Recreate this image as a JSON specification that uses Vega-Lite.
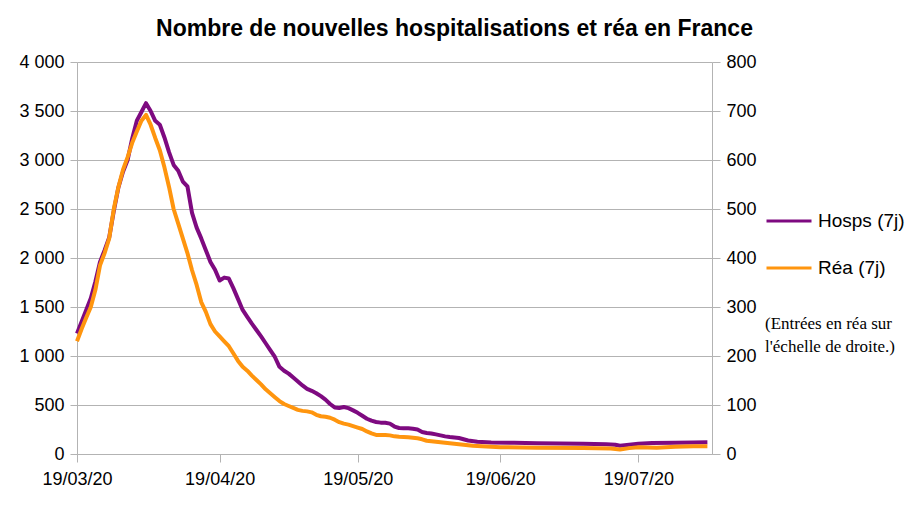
{
  "$schema": "https://vega.github.io/schema/vega-lite/v6.json",
  "width": 635,
  "height": 392,
  "autosize": {"type": "none"},
  "padding": {"left": 77, "top": 62, "right": 195, "bottom": 58},
  "background": "white",
  "config": {"view": {"stroke": null}, "font": "Liberation Sans"},
  "title": {
    "text": "Nombre de nouvelles hospitalisations et réa en France",
    "font": "Liberation Sans",
    "fontSize": 23,
    "fontWeight": "bold",
    "color": "black",
    "anchor": "middle",
    "dx": 60,
    "dy": 28,
    "offset": 22,
    "baseline": "alphabetic"
  },
  "datasets": {
    "hosps": [
      {"date": "2020-03-19", "value": 1230}, {"date": "2020-03-20", "value": 1350}, {"date": "2020-03-21", "value": 1470},
      {"date": "2020-03-22", "value": 1590}, {"date": "2020-03-23", "value": 1760}, {"date": "2020-03-24", "value": 1960},
      {"date": "2020-03-25", "value": 2080}, {"date": "2020-03-26", "value": 2210}, {"date": "2020-03-27", "value": 2480},
      {"date": "2020-03-28", "value": 2720}, {"date": "2020-03-29", "value": 2880}, {"date": "2020-03-30", "value": 3000},
      {"date": "2020-03-31", "value": 3220}, {"date": "2020-04-01", "value": 3400}, {"date": "2020-04-02", "value": 3490},
      {"date": "2020-04-03", "value": 3580}, {"date": "2020-04-04", "value": 3500}, {"date": "2020-04-05", "value": 3400},
      {"date": "2020-04-06", "value": 3360}, {"date": "2020-04-07", "value": 3230}, {"date": "2020-04-08", "value": 3080},
      {"date": "2020-04-09", "value": 2950}, {"date": "2020-04-10", "value": 2890}, {"date": "2020-04-11", "value": 2780},
      {"date": "2020-04-12", "value": 2730}, {"date": "2020-04-13", "value": 2460}, {"date": "2020-04-14", "value": 2310},
      {"date": "2020-04-15", "value": 2200}, {"date": "2020-04-16", "value": 2080}, {"date": "2020-04-17", "value": 1960},
      {"date": "2020-04-18", "value": 1880}, {"date": "2020-04-19", "value": 1770}, {"date": "2020-04-20", "value": 1800},
      {"date": "2020-04-21", "value": 1790}, {"date": "2020-04-22", "value": 1690}, {"date": "2020-04-23", "value": 1580},
      {"date": "2020-04-24", "value": 1470}, {"date": "2020-04-25", "value": 1400}, {"date": "2020-04-26", "value": 1330},
      {"date": "2020-04-27", "value": 1265}, {"date": "2020-04-28", "value": 1200}, {"date": "2020-04-29", "value": 1130},
      {"date": "2020-04-30", "value": 1060}, {"date": "2020-05-01", "value": 990}, {"date": "2020-05-02", "value": 890},
      {"date": "2020-05-03", "value": 850}, {"date": "2020-05-04", "value": 820}, {"date": "2020-05-05", "value": 780},
      {"date": "2020-05-06", "value": 740}, {"date": "2020-05-07", "value": 700}, {"date": "2020-05-08", "value": 665},
      {"date": "2020-05-09", "value": 645}, {"date": "2020-05-10", "value": 620}, {"date": "2020-05-11", "value": 590},
      {"date": "2020-05-12", "value": 555}, {"date": "2020-05-13", "value": 510}, {"date": "2020-05-14", "value": 475},
      {"date": "2020-05-15", "value": 470}, {"date": "2020-05-16", "value": 480}, {"date": "2020-05-17", "value": 468},
      {"date": "2020-05-18", "value": 445}, {"date": "2020-05-19", "value": 420}, {"date": "2020-05-20", "value": 390},
      {"date": "2020-05-21", "value": 360}, {"date": "2020-05-22", "value": 340}, {"date": "2020-05-23", "value": 327},
      {"date": "2020-05-24", "value": 320}, {"date": "2020-05-25", "value": 318}, {"date": "2020-05-26", "value": 310},
      {"date": "2020-05-27", "value": 280}, {"date": "2020-05-28", "value": 265}, {"date": "2020-05-29", "value": 263},
      {"date": "2020-05-30", "value": 262}, {"date": "2020-05-31", "value": 258}, {"date": "2020-06-01", "value": 250},
      {"date": "2020-06-02", "value": 225}, {"date": "2020-06-03", "value": 215}, {"date": "2020-06-04", "value": 210},
      {"date": "2020-06-05", "value": 200}, {"date": "2020-06-06", "value": 190}, {"date": "2020-06-07", "value": 180},
      {"date": "2020-06-08", "value": 173}, {"date": "2020-06-09", "value": 168}, {"date": "2020-06-10", "value": 163},
      {"date": "2020-06-11", "value": 150}, {"date": "2020-06-12", "value": 138}, {"date": "2020-06-14", "value": 125},
      {"date": "2020-06-17", "value": 118}, {"date": "2020-06-22", "value": 115}, {"date": "2020-06-27", "value": 110},
      {"date": "2020-07-02", "value": 108}, {"date": "2020-07-07", "value": 105}, {"date": "2020-07-12", "value": 100},
      {"date": "2020-07-14", "value": 95}, {"date": "2020-07-15", "value": 85}, {"date": "2020-07-17", "value": 95},
      {"date": "2020-07-19", "value": 105}, {"date": "2020-07-22", "value": 112}, {"date": "2020-07-27", "value": 115},
      {"date": "2020-07-31", "value": 118}, {"date": "2020-08-03", "value": 120}
    ],
    "rea": [
      {"date": "2020-03-19", "value": 230}, {"date": "2020-03-20", "value": 255}, {"date": "2020-03-21", "value": 278},
      {"date": "2020-03-22", "value": 300}, {"date": "2020-03-23", "value": 335}, {"date": "2020-03-24", "value": 385},
      {"date": "2020-03-25", "value": 410}, {"date": "2020-03-26", "value": 440}, {"date": "2020-03-27", "value": 500},
      {"date": "2020-03-28", "value": 545}, {"date": "2020-03-29", "value": 580}, {"date": "2020-03-30", "value": 606},
      {"date": "2020-03-31", "value": 635}, {"date": "2020-04-01", "value": 658}, {"date": "2020-04-02", "value": 680},
      {"date": "2020-04-03", "value": 692}, {"date": "2020-04-04", "value": 672}, {"date": "2020-04-05", "value": 645},
      {"date": "2020-04-06", "value": 620}, {"date": "2020-04-07", "value": 585}, {"date": "2020-04-08", "value": 545},
      {"date": "2020-04-09", "value": 500}, {"date": "2020-04-10", "value": 470}, {"date": "2020-04-11", "value": 440},
      {"date": "2020-04-12", "value": 410}, {"date": "2020-04-13", "value": 375}, {"date": "2020-04-14", "value": 345},
      {"date": "2020-04-15", "value": 310}, {"date": "2020-04-16", "value": 290}, {"date": "2020-04-17", "value": 265},
      {"date": "2020-04-18", "value": 250}, {"date": "2020-04-19", "value": 240}, {"date": "2020-04-20", "value": 230},
      {"date": "2020-04-21", "value": 220}, {"date": "2020-04-22", "value": 205}, {"date": "2020-04-23", "value": 190},
      {"date": "2020-04-24", "value": 178}, {"date": "2020-04-25", "value": 170}, {"date": "2020-04-26", "value": 160},
      {"date": "2020-04-27", "value": 151}, {"date": "2020-04-28", "value": 142}, {"date": "2020-04-29", "value": 132},
      {"date": "2020-04-30", "value": 124}, {"date": "2020-05-01", "value": 116}, {"date": "2020-05-02", "value": 108},
      {"date": "2020-05-03", "value": 102}, {"date": "2020-05-04", "value": 98}, {"date": "2020-05-05", "value": 94},
      {"date": "2020-05-06", "value": 90}, {"date": "2020-05-07", "value": 88}, {"date": "2020-05-08", "value": 87},
      {"date": "2020-05-09", "value": 85}, {"date": "2020-05-10", "value": 80}, {"date": "2020-05-11", "value": 77},
      {"date": "2020-05-12", "value": 76}, {"date": "2020-05-13", "value": 74}, {"date": "2020-05-14", "value": 70},
      {"date": "2020-05-15", "value": 65}, {"date": "2020-05-16", "value": 62}, {"date": "2020-05-17", "value": 60},
      {"date": "2020-05-18", "value": 57}, {"date": "2020-05-19", "value": 54}, {"date": "2020-05-20", "value": 51},
      {"date": "2020-05-21", "value": 46}, {"date": "2020-05-22", "value": 42}, {"date": "2020-05-23", "value": 39},
      {"date": "2020-05-24", "value": 39}, {"date": "2020-05-25", "value": 39}, {"date": "2020-05-26", "value": 38},
      {"date": "2020-05-27", "value": 36}, {"date": "2020-05-28", "value": 35}, {"date": "2020-05-30", "value": 34},
      {"date": "2020-06-01", "value": 32}, {"date": "2020-06-02", "value": 30}, {"date": "2020-06-03", "value": 27},
      {"date": "2020-06-05", "value": 25}, {"date": "2020-06-07", "value": 23}, {"date": "2020-06-09", "value": 21},
      {"date": "2020-06-11", "value": 19}, {"date": "2020-06-13", "value": 17}, {"date": "2020-06-15", "value": 16},
      {"date": "2020-06-19", "value": 14}, {"date": "2020-06-27", "value": 13}, {"date": "2020-07-07", "value": 12},
      {"date": "2020-07-13", "value": 11}, {"date": "2020-07-15", "value": 9}, {"date": "2020-07-17", "value": 12},
      {"date": "2020-07-19", "value": 14}, {"date": "2020-07-23", "value": 13}, {"date": "2020-07-27", "value": 15},
      {"date": "2020-07-31", "value": 16}, {"date": "2020-08-03", "value": 16}
    ]
  },
  "encoding": {
    "x": {
      "field": "date",
      "type": "temporal",
      "scale": {
        "type": "utc",
        "domain": [
          {"year": 2020, "month": 3, "date": 19, "utc": true},
          {"year": 2020, "month": 8, "date": 4, "utc": true}
        ]
      },
      "axis": {
        "values": [
          {"year": 2020, "month": 3, "date": 19, "utc": true},
          {"year": 2020, "month": 4, "date": 19, "utc": true},
          {"year": 2020, "month": 5, "date": 19, "utc": true},
          {"year": 2020, "month": 6, "date": 19, "utc": true},
          {"year": 2020, "month": 7, "date": 19, "utc": true}
        ],
        "format": "%d/%m/%y",
        "title": null,
        "grid": false,
        "labelFont": "Liberation Sans",
        "labelFontSize": 18,
        "labelColor": "black",
        "labelPadding": 8,
        "labelFlush": false,
        "labelOverlap": false,
        "tickSize": 8,
        "tickColor": "#b3b3b3",
        "domainColor": "#b3b3b3"
      }
    }
  },
  "layer": [
    {
      "data": {"name": "hosps"},
      "mark": {"type": "line", "strokeWidth": 4, "strokeJoin": "round"},
      "encoding": {
        "y": {
          "field": "value",
          "type": "quantitative",
          "scale": {"domain": [0, 4000]},
          "axis": {
            "orient": "left",
            "title": null,
            "values": [0, 500, 1000, 1500, 2000, 2500, 3000, 3500, 4000],
            "labelExpr": "replace(format(datum.value, ',d'), ',', ' ')",
            "grid": true,
            "gridColor": "#b3b3b3",
            "labelFont": "Liberation Sans",
            "labelFontSize": 18,
            "labelColor": "black",
            "labelPadding": 6,
            "tickSize": 7,
            "tickColor": "#b3b3b3",
            "domainColor": "#b3b3b3"
          }
        },
        "color": {
          "datum": "Hosps (7j)",
          "type": "nominal",
          "scale": {"domain": ["Hosps (7j)", "Réa (7j)"], "range": ["#7e0a80", "#ff950e"]},
          "legend": {
            "orient": "none",
            "legendX": 688,
            "legendY": 135,
            "padding": 0,
            "symbolType": "stroke",
            "symbolSize": 2025,
            "symbolStrokeWidth": 3,
            "labelFont": "Liberation Sans",
            "labelFontSize": 19,
            "labelColor": "black",
            "labelOffset": 5,
            "rowPadding": 13,
            "title": ["(Entrées en réa sur", "l'échelle de droite.)"],
            "titleOrient": "bottom",
            "titleAnchor": "start",
            "titleAlign": "left",
            "titleFont": "Liberation Serif",
            "titleFontSize": 17,
            "titleFontWeight": "normal",
            "titleColor": "black",
            "titleLineHeight": 23,
            "titlePadding": 38,
            "titleLimit": 300
          }
        }
      }
    },
    {
      "data": {"name": "rea"},
      "mark": {"type": "line", "strokeWidth": 4, "strokeJoin": "round"},
      "encoding": {
        "y": {
          "field": "value",
          "type": "quantitative",
          "scale": {"domain": [0, 800]},
          "axis": {
            "orient": "right",
            "title": null,
            "values": [0, 100, 200, 300, 400, 500, 600, 700, 800],
            "grid": false,
            "labelFont": "Liberation Sans",
            "labelFontSize": 18,
            "labelColor": "black",
            "labelPadding": 6,
            "tickSize": 8,
            "tickColor": "#b3b3b3",
            "domainColor": "#b3b3b3"
          }
        },
        "color": {"datum": "Réa (7j)", "type": "nominal"}
      }
    }
  ],
  "resolve": {"scale": {"y": "independent"}}
}
